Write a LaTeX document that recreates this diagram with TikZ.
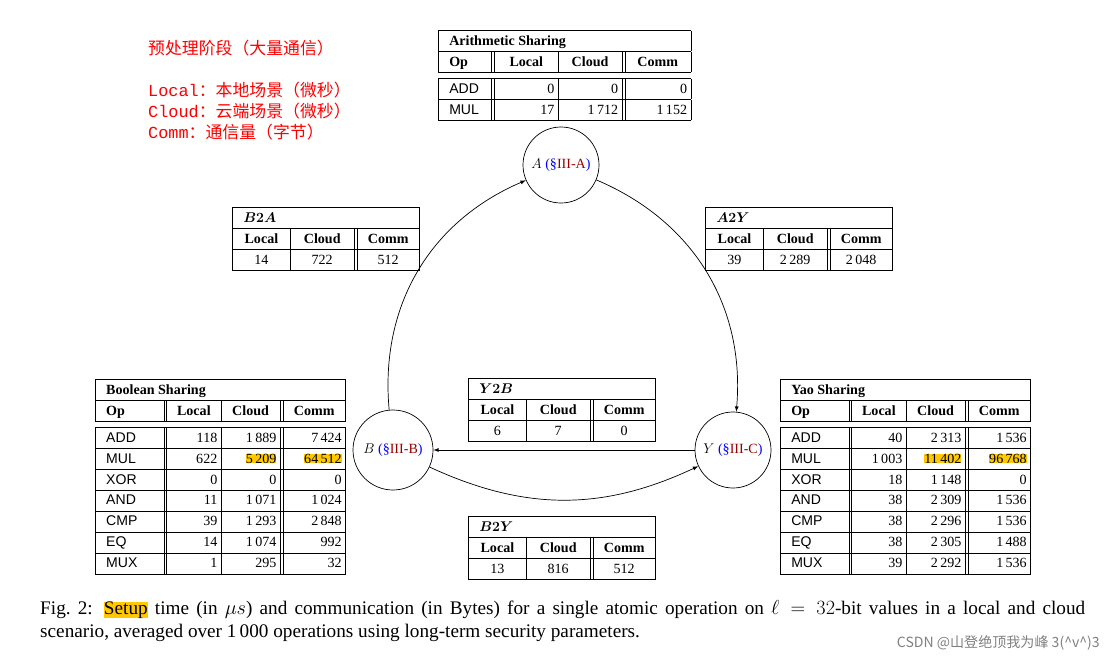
\documentclass[tikz,border=0pt]{standalone}
\usepackage{amsmath}
\usepackage{fontspec}
\setmainfont{Liberation Serif}
\newfontfamily\opfont{Liberation Sans}
\newfontfamily\cjk{Noto Sans CJK SC}
\newfontfamily\cjkmono{Liberation Mono}
\usepackage{array}
\usepackage{xcolor}
\usetikzlibrary{arrows,positioning}
\definecolor{hl}{RGB}{255,200,0}
\newcommand{\hl}[1]{{\setlength{\fboxsep}{0pt}\colorbox{hl}{#1}}}
\newcommand{\sect}[1]{{\color{blue}(\S}{\color{red!60!black}#1}{\color{blue})}}
\newcommand{\ttl}[1]{\hspace{6pt}#1}
\renewcommand{\arraystretch}{1.25}
\setlength{\tabcolsep}{3pt}
\begin{document}
\begin{tikzpicture}[x=0.3mm,y=-0.3mm,
    table_node/.style={anchor=north west,inner sep=0pt,font=\large},
    share_node/.style={circle,draw,semithick,minimum size=#1,inner sep=0pt,font=\large},
    note_node/.style={anchor=west,inner sep=0pt,text=red,font=\cjk\Large}]
\useasboundingbox (0,0) rectangle (1114,665);

% notes
\node[note_node] (n0) at (148,48) {预处理阶段（大量通信）};
\node[note_node] (n1) at (148,90) {{\cjkmono Local}：本地场景（微秒）};
\node[note_node] (n2) at (148,111) {{\cjkmono Cloud}：云端场景（微秒）};
\node[note_node] (n3) at (148,132) {{\cjkmono Comm}：通信量（字节）};

% sharing nodes
\node[share_node=76*0.3mm] (A) at (561,165) {$A$ \sect{III-A}};
\node[share_node=80*0.3mm] (B) at (393,450) {$B$ \sect{III-B}};
\node[share_node=76*0.3mm] (Y) at (733,450) {$Y$ \sect{III-C}};

\draw[semithick,-latex] (B) to[bend left=36] (A);
\draw[semithick,-latex] (A) to[bend left=36] (Y);
\draw[semithick,-latex] (Y) -- (B);
\draw[semithick,-latex] (B) to[bend right=25] (Y);

% arithmetic
\node[table_node] (arith_h) at (438,30) {\begin{tabular}{|w{l}{39pt}||w{c}{48pt}|w{c}{48pt}||w{c}{50pt}|}\hline
\multicolumn{4}{|l|}{\ttl{\textbf{Arithmetic Sharing}}}\\\hline
\ttl{\textbf{Op}} & \textbf{Local} & \textbf{Cloud} & \textbf{Comm}\\\hline\end{tabular}};
\node[table_node] (arith_b) at (438,78) {\begin{tabular}{|w{l}{39pt}||w{r}{48pt}|w{r}{48pt}||w{r}{50pt}|}\hline
\ttl{\opfont ADD} & 0 & 0 & 0\\\hline
\ttl{\opfont MUL} & 17 & 1\,712 & 1\,152\\\hline\end{tabular}};

% boolean
\node[table_node] (bool_h) at (95,379) {\begin{tabular}{|w{l}{52pt}||w{c}{40pt}|w{c}{44pt}||w{c}{47pt}|}\hline
\multicolumn{4}{|l|}{\ttl{\textbf{Boolean Sharing}}}\\\hline
\ttl{\textbf{Op}} & \textbf{Local} & \textbf{Cloud} & \textbf{Comm}\\\hline\end{tabular}};
\node[table_node] (bool_b) at (95,427) {\begin{tabular}{|w{l}{52pt}||w{r}{40pt}|w{r}{44pt}||w{r}{47pt}|}\hline
\ttl{\opfont ADD} & 118 & 1\,889 & 7\,424\\\hline
\ttl{\opfont MUL} & 622 & \hl{5\,209} & \hl{64\,512}\\\hline
\ttl{\opfont XOR} & 0 & 0 & 0\\\hline
\ttl{\opfont AND} & 11 & 1\,071 & 1\,024\\\hline
\ttl{\opfont CMP} & 39 & 1\,293 & 2\,848\\\hline
\ttl{\opfont EQ} & 14 & 1\,074 & 992\\\hline
\ttl{\opfont MUX} & 1 & 295 & 32\\\hline\end{tabular}};

% yao
\node[table_node] (yao_h) at (780,379) {\begin{tabular}{|w{l}{52pt}||w{c}{40pt}|w{c}{44pt}||w{c}{47pt}|}\hline
\multicolumn{4}{|l|}{\ttl{\textbf{Yao Sharing}}}\\\hline
\ttl{\textbf{Op}} & \textbf{Local} & \textbf{Cloud} & \textbf{Comm}\\\hline\end{tabular}};
\node[table_node] (yao_b) at (780,427) {\begin{tabular}{|w{l}{52pt}||w{r}{40pt}|w{r}{44pt}||w{r}{47pt}|}\hline
\ttl{\opfont ADD} & 40 & 2\,313 & 1\,536\\\hline
\ttl{\opfont MUL} & 1\,003 & \hl{11\,402} & \hl{96\,768}\\\hline
\ttl{\opfont XOR} & 18 & 1\,148 & 0\\\hline
\ttl{\opfont AND} & 38 & 2\,309 & 1\,536\\\hline
\ttl{\opfont CMP} & 38 & 2\,296 & 1\,536\\\hline
\ttl{\opfont EQ} & 38 & 2\,305 & 1\,488\\\hline
\ttl{\opfont MUX} & 39 & 2\,292 & 1\,536\\\hline\end{tabular}};

% conversions
\node[table_node] (b2a) at (232,207) {\begin{tabular}{|w{c}{43pt}|w{c}{48pt}||w{c}{47pt}|}\hline
\multicolumn{3}{|l|}{\ttl{$\boldsymbol{B2A}$}}\\\hline
\textbf{Local} & \textbf{Cloud} & \textbf{Comm}\\\hline
14 & 722 & 512\\\hline\end{tabular}};
\node[table_node] (a2y) at (705,207) {\begin{tabular}{|w{c}{43pt}|w{c}{48pt}||w{c}{47pt}|}\hline
\multicolumn{3}{|l|}{\ttl{$\boldsymbol{A2Y}$}}\\\hline
\textbf{Local} & \textbf{Cloud} & \textbf{Comm}\\\hline
39 & 2\,289 & 2\,048\\\hline\end{tabular}};
\node[table_node] (y2b) at (468,378) {\begin{tabular}{|w{c}{43pt}|w{c}{48pt}||w{c}{47pt}|}\hline
\multicolumn{3}{|l|}{\ttl{$\boldsymbol{Y2B}$}}\\\hline
\textbf{Local} & \textbf{Cloud} & \textbf{Comm}\\\hline
6 & 7 & 0\\\hline\end{tabular}};
\node[table_node] (b2y) at (468,516) {\begin{tabular}{|w{c}{43pt}|w{c}{48pt}||w{c}{47pt}|}\hline
\multicolumn{3}{|l|}{\ttl{$\boldsymbol{B2Y}$}}\\\hline
\textbf{Local} & \textbf{Cloud} & \textbf{Comm}\\\hline
13 & 816 & 512\\\hline\end{tabular}};

% caption
\node[anchor=north west,inner sep=0pt,text width=1045*0.3mm,align=justify,font=\fontsize{16.4}{19.5}\selectfont] (cap) at (40,600)
  {Fig.~2: \hl{Setup} time (in $\mu s$) and communication (in Bytes) for a single atomic operation on $\ell = 32$-bit values in a local and cloud\linebreak scenario, averaged over 1\,000 operations using long-term security parameters.};
\node[anchor=east,inner sep=0pt,text=gray,font=\cjk\large] (mark) at (1100,643) {CSDN @山登绝顶我为峰 3(\^{}v\^{})3};
\end{tikzpicture}
\end{document}
